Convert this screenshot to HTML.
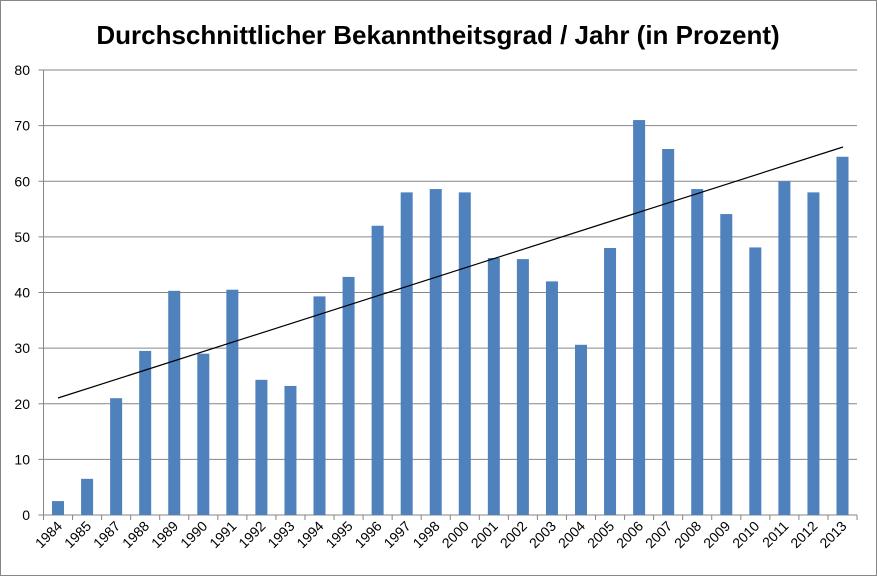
<!DOCTYPE html><html><head><style>body{margin:0}svg{display:block}</style></head><body>
<svg width="877" height="576" xmlns="http://www.w3.org/2000/svg" font-family="Liberation Sans, sans-serif">
<rect x="0.5" y="0.5" width="876" height="575" fill="#fff" stroke="#868686"/>
<text x="438" y="44" text-anchor="middle" font-size="26" font-weight="bold">Durchschnittlicher Bekanntheitsgrad / Jahr (in Prozent)</text>
<g stroke="#868686">
<line x1="38.5" x2="857" y1="515" y2="515"/>
<line x1="38.5" x2="857" y1="459.38" y2="459.38"/>
<line x1="38.5" x2="857" y1="403.75" y2="403.75"/>
<line x1="38.5" x2="857" y1="348.13" y2="348.13"/>
<line x1="38.5" x2="857" y1="292.5" y2="292.5"/>
<line x1="38.5" x2="857" y1="236.88" y2="236.88"/>
<line x1="38.5" x2="857" y1="181.25" y2="181.25"/>
<line x1="38.5" x2="857" y1="125.63" y2="125.63"/>
<line x1="38.5" x2="857" y1="70" y2="70"/>
<line x1="43.5" x2="43.5" y1="70" y2="520"/>
<path d="M72.55 515v5M101.61 515v5M130.66 515v5M159.71 515v5M188.77 515v5M217.82 515v5M246.88 515v5M275.93 515v5M304.98 515v5M334.04 515v5M363.09 515v5M392.15 515v5M421.2 515v5M450.26 515v5M479.31 515v5M508.36 515v5M537.42 515v5M566.47 515v5M595.53 515v5M624.58 515v5M653.63 515v5M682.69 515v5M711.74 515v5M740.8 515v5M769.85 515v5M798.9 515v5M827.96 515v5M857 515v5"/>
</g>
<g font-size="14" text-anchor="end">
<text x="30" y="520">0</text><text x="30" y="464.4">10</text><text x="30" y="408.8">20</text><text x="30" y="353.1">30</text><text x="30" y="297.5">40</text><text x="30" y="241.9">50</text><text x="30" y="186.3">60</text><text x="30" y="130.6">70</text><text x="30" y="75">80</text>
</g>
<g fill="#4f81bd">
<rect x="52.03" y="501.09" width="12" height="13.91"/>
<rect x="81.08" y="478.84" width="12" height="36.16"/>
<rect x="110.13" y="398.19" width="12" height="116.81"/>
<rect x="139.19" y="350.91" width="12" height="164.09"/>
<rect x="168.24" y="290.83" width="12" height="224.17"/>
<rect x="197.3" y="353.69" width="12" height="161.31"/>
<rect x="226.35" y="289.72" width="12" height="225.28"/>
<rect x="255.41" y="379.83" width="12" height="135.17"/>
<rect x="284.46" y="385.95" width="12" height="129.05"/>
<rect x="313.51" y="296.39" width="12" height="218.61"/>
<rect x="342.57" y="276.92" width="12" height="238.08"/>
<rect x="371.62" y="225.75" width="12" height="289.25"/>
<rect x="400.68" y="192.37" width="12" height="322.63"/>
<rect x="429.73" y="189.04" width="12" height="325.96"/>
<rect x="458.79" y="192.37" width="12" height="322.63"/>
<rect x="487.84" y="258.01" width="12" height="256.99"/>
<rect x="516.89" y="259.12" width="12" height="255.88"/>
<rect x="545.95" y="281.37" width="12" height="233.63"/>
<rect x="575" y="344.79" width="12" height="170.21"/>
<rect x="604.06" y="248" width="12" height="267"/>
<rect x="633.11" y="120.06" width="12" height="394.94"/>
<rect x="662.17" y="148.99" width="12" height="366.01"/>
<rect x="691.22" y="189.04" width="12" height="325.96"/>
<rect x="720.28" y="214.07" width="12" height="300.93"/>
<rect x="749.33" y="247.44" width="12" height="267.56"/>
<rect x="778.38" y="181.25" width="12" height="333.75"/>
<rect x="807.44" y="192.37" width="12" height="322.63"/>
<rect x="836.49" y="156.77" width="12" height="358.23"/>
</g>
<line x1="58" y1="398" x2="843" y2="147" stroke="#000" stroke-width="1.2"/>
<g font-size="14" text-anchor="end">
<text transform="translate(63,527) rotate(-45)">1984</text>
<text transform="translate(92.1,527) rotate(-45)">1985</text>
<text transform="translate(121.1,527) rotate(-45)">1987</text>
<text transform="translate(150.2,527) rotate(-45)">1988</text>
<text transform="translate(179.2,527) rotate(-45)">1989</text>
<text transform="translate(208.3,527) rotate(-45)">1990</text>
<text transform="translate(237.4,527) rotate(-45)">1991</text>
<text transform="translate(266.4,527) rotate(-45)">1992</text>
<text transform="translate(295.5,527) rotate(-45)">1993</text>
<text transform="translate(324.5,527) rotate(-45)">1994</text>
<text transform="translate(353.6,527) rotate(-45)">1995</text>
<text transform="translate(382.6,527) rotate(-45)">1996</text>
<text transform="translate(411.7,527) rotate(-45)">1997</text>
<text transform="translate(440.7,527) rotate(-45)">1998</text>
<text transform="translate(469.8,527) rotate(-45)">2000</text>
<text transform="translate(498.8,527) rotate(-45)">2001</text>
<text transform="translate(527.9,527) rotate(-45)">2002</text>
<text transform="translate(557,527) rotate(-45)">2003</text>
<text transform="translate(586,527) rotate(-45)">2004</text>
<text transform="translate(615.1,527) rotate(-45)">2005</text>
<text transform="translate(644.1,527) rotate(-45)">2006</text>
<text transform="translate(673.2,527) rotate(-45)">2007</text>
<text transform="translate(702.2,527) rotate(-45)">2008</text>
<text transform="translate(731.3,527) rotate(-45)">2009</text>
<text transform="translate(760.3,527) rotate(-45)">2010</text>
<text transform="translate(789.4,527) rotate(-45)">2011</text>
<text transform="translate(818.4,527) rotate(-45)">2012</text>
<text transform="translate(847.5,527) rotate(-45)">2013</text>
</g>
</svg></body></html>
